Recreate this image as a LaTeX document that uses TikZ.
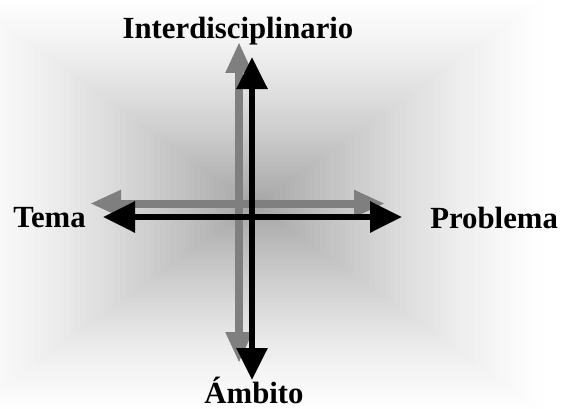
\documentclass[tikz,border=0pt]{standalone}
\usepackage{fontspec}
\setmainfont{Liberation Serif}
\usetikzlibrary{arrows.meta}
\definecolor{AxGray}{HTML}{7F7F7F}
\definecolor{AxBlack}{HTML}{000000}

\begin{document}
\begin{tikzpicture}[x=1cm,y=1cm,
  axlabel/.style={font=\fontsize{17.5}{20}\selectfont\bfseries,inner sep=0pt},
  grayaxis/.style={AxGray,line width=0.16cm,
    {Triangle[length=0.62cm,width=0.50cm]}-{Triangle[length=0.62cm,width=0.50cm]}},
  blackaxis/.style={AxBlack,line width=0.12cm,
    {Triangle[length=0.64cm,width=0.60cm]}-{Triangle[length=0.64cm,width=0.60cm]}}]
\path[use as bounding box] (0,0) rectangle (11.28,8.16);
% shaded background, dark in the middle
\begin{scope}
\clip (0,0) rectangle (11.28,8.16);
\foreach \i in {0,...,59} {
  \pgfmathsetmacro{\f}{1-\i/60}
  \pgfmathsetmacro{\g}{36*(\i/60)^1.4}
  \fill[black!\g] ({5.10-6.00*\f},{4.06-4.30*\f}) rectangle ({5.10+6.00*\f},{4.06+4.30*\f});
}
\end{scope}
% axis ends
\coordinate (gTop) at (4.78,7.32);
\coordinate (gBot) at (4.78,0.90);
\coordinate (gLeft) at (1.80,4.09);
\coordinate (gRight) at (7.70,4.09);
\coordinate (kTop) at (5.04,7.02);
\coordinate (kBot) at (5.04,0.56);
\coordinate (kLeft) at (2.06,3.82);
\coordinate (kRight) at (8.04,3.82);
% labels
\node[axlabel,anchor=base] (inter) at (4.76,7.40) {Interdisciplinario};
\node[axlabel,anchor=base west] (tema) at (0.26,3.62) {Tema};
\node[axlabel,anchor=base west] (problema) at (8.60,3.60) {Problema};
\node[axlabel,anchor=base] (ambito) at (5.08,0.10) {Ámbito};
% axes
\draw[grayaxis] (gTop) -- (gBot);
\draw[grayaxis] (gLeft) -- (gRight);
\draw[blackaxis] (kTop) -- (kBot);
\draw[blackaxis] (kLeft) -- (kRight);
\end{tikzpicture}
\end{document}
